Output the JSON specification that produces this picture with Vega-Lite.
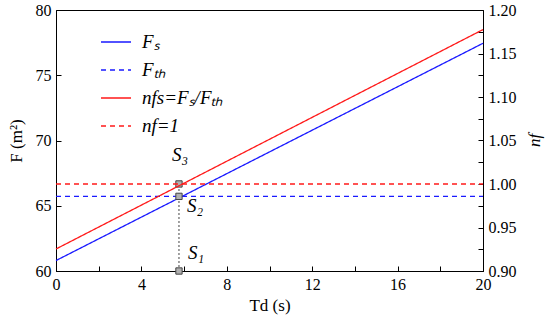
{
  "$schema": "https://vega.github.io/schema/vega-lite/v6.json",
  "width": 427,
  "height": 261,
  "autosize": {"type": "none"},
  "padding": {"left": 56, "top": 10, "right": 67, "bottom": 51},
  "background": "white",
  "datasets": {
    "lines": [
      {"series": "Fs", "t": 0, "value": 60.8},
      {"series": "Fs", "t": 20, "value": 77.45},
      {"series": "Fth", "t": 0, "value": 65.72},
      {"series": "Fth", "t": 20, "value": 65.72},
      {"series": "nfs", "t": 0, "value": 0.9253},
      {"series": "nfs", "t": 20, "value": 1.1775},
      {"series": "nf1", "t": 0, "value": 1.0},
      {"series": "nf1", "t": 20, "value": 1.0}
    ],
    "points": [
      {"name": "S1", "label": "S₁", "t": 5.76, "F": 60},
      {"name": "S2", "label": "S₂", "t": 5.76, "F": 65.72},
      {"name": "S3", "label": "S₃", "t": 5.76, "F": 66.67}
    ],
    "guide": [
      {"t": 5.76, "F0": 60, "F1": 66.67}
    ]
  },
  "config": {
    "font": "Liberation Serif, Times New Roman, serif",
    "view": {"stroke": "black", "strokeWidth": 1},
    "style": {
      "guide-label": {"font": "Liberation Serif, Times New Roman, serif", "fontSize": 16, "fill": "black"},
      "guide-title": {"font": "Liberation Serif, Times New Roman, serif", "fontSize": 17, "fill": "black", "fontWeight": "normal"}
    },
    "axis": {
      "grid": false,
      "domainColor": "black",
      "tickColor": "black",
      "labelColor": "black",
      "titleColor": "black",
      "labelFont": "Liberation Serif, Times New Roman, serif",
      "titleFont": "Liberation Serif, Times New Roman, serif",
      "labelFontSize": 16,
      "titleFontSize": 17,
      "titleFontWeight": "normal",
      "tickSize": -5,
      "labelPadding": 10,
      "labelFlush": false,
      "labelOverlap": false
    },
    "legend": {
      "labelFont": "Liberation Serif, Times New Roman, serif",
      "labelFontSize": 19,
      "labelFontStyle": "italic",
      "labelColor": "black"
    }
  },
  "layer": [
    {
      "layer": [
        {
          "data": {"name": "lines"},
          "transform": [{"filter": "datum.series === 'Fs' || datum.series === 'Fth'"}],
          "mark": {"type": "line", "strokeWidth": 1.3},
          "encoding": {
            "x": {"field": "t", "type": "quantitative", "scale": {"domain": [0, 20], "nice": false},
              "axis": {"title": "Td (s)", "values": [0,2,4,6,8,10,12,14,16,18,20], "labelExpr": "datum.value % 4 === 0 ? datum.label : ''", "titlePadding": 5}},
            "y": {"field": "value", "type": "quantitative", "scale": {"domain": [60, 80], "nice": false, "zero": false},
              "axis": {"title": "F (m²)", "orient": "left", "values": [60,62.5,65,67.5,70,72.5,75,77.5,80], "labelExpr": "datum.value % 5 === 0 ? format(datum.value, 'd') : ''", "titlePadding": 10}},
            "color": {"field": "series", "type": "nominal",
              "scale": {"domain": ["Fs", "Fth", "nfs", "nf1"], "range": ["#1a1aff", "#1a1aff", "#ff1a1a", "#ff1a1a"]},
              "legend": {"title": null, "orient": "none", "legendX": 44, "legendY": 16, "symbolType": "stroke", "symbolSize": 900, "symbolStrokeWidth": 1.5, "labelOffset": 10, "rowPadding": 2,
                "labelExpr": "{'Fs': 'Fₛ', 'Fth': 'Fₜₕ', 'nfs': 'nfs=Fₛ/Fₜₕ', 'nf1': 'nf=1'}[datum.value]"}},
            "strokeDash": {"field": "series", "type": "nominal",
              "scale": {"domain": ["Fs", "Fth", "nfs", "nf1"], "range": [[1, 0], [5, 4], [1, 0], [5, 4]]},
              "legend": {"title": null, "orient": "none", "legendX": 44, "legendY": 16, "symbolType": "stroke", "symbolSize": 900, "symbolStrokeWidth": 1.5, "labelOffset": 10, "rowPadding": 2,
                "labelExpr": "{'Fs': 'Fₛ', 'Fth': 'Fₜₕ', 'nfs': 'nfs=Fₛ/Fₜₕ', 'nf1': 'nf=1'}[datum.value]"}}
          }
        },
        {
          "data": {"name": "guide"},
          "mark": {"type": "rule", "color": "#444444", "strokeWidth": 1, "strokeDash": [2, 2]},
          "encoding": {
            "x": {"field": "t", "type": "quantitative"},
            "y": {"field": "F0", "type": "quantitative"},
            "y2": {"field": "F1"}
          }
        },
        {
          "data": {"name": "points"},
          "mark": {"type": "square", "size": 40, "filled": true, "fill": "#b0b0b0", "stroke": "#444444", "strokeWidth": 1, "opacity": 1},
          "encoding": {
            "x": {"field": "t", "type": "quantitative"},
            "y": {"field": "F", "type": "quantitative"}
          }
        },
        {
          "data": {"name": "points"},
          "transform": [{"filter": "datum.name === 'S3'"}],
          "mark": {"type": "text", "align": "left", "baseline": "middle", "dx": -7, "dy": -29, "fontSize": 19, "fontStyle": "italic", "color": "black"},
          "encoding": {
            "x": {"field": "t", "type": "quantitative"},
            "y": {"field": "F", "type": "quantitative"},
            "text": {"field": "label"}
          }
        },
        {
          "data": {"name": "points"},
          "transform": [{"filter": "datum.name === 'S2'"}],
          "mark": {"type": "text", "align": "left", "baseline": "middle", "dx": 8, "dy": 10, "fontSize": 19, "fontStyle": "italic", "color": "black"},
          "encoding": {
            "x": {"field": "t", "type": "quantitative"},
            "y": {"field": "F", "type": "quantitative"},
            "text": {"field": "label"}
          }
        },
        {
          "data": {"name": "points"},
          "transform": [{"filter": "datum.name === 'S1'"}],
          "mark": {"type": "text", "align": "left", "baseline": "middle", "dx": 9, "dy": -18, "fontSize": 19, "fontStyle": "italic", "color": "black"},
          "encoding": {
            "x": {"field": "t", "type": "quantitative"},
            "y": {"field": "F", "type": "quantitative"},
            "text": {"field": "label"}
          }
        }
      ]
    },
    {
      "data": {"name": "lines"},
      "transform": [{"filter": "datum.series === 'nfs' || datum.series === 'nf1'"}],
      "mark": {"type": "line", "strokeWidth": 1.3},
      "encoding": {
        "x": {"field": "t", "type": "quantitative"},
        "y": {"field": "value", "type": "quantitative", "scale": {"domain": [0.9, 1.2], "nice": false, "zero": false},
          "axis": {"title": "nf", "orient": "right", "titleFontStyle": "italic", "titleAngle": 270, "titleX": 51, "titleY": 130, "titleAlign": "center", "titleBaseline": "middle",
            "values": [0.9,0.925,0.95,0.975,1.0,1.025,1.05,1.075,1.1,1.125,1.15,1.175,1.2],
            "labelExpr": "abs(datum.value*20 - round(datum.value*20)) < 0.001 ? format(datum.value, '.2f') : ''"}},
        "color": {"field": "series", "type": "nominal"},
        "strokeDash": {"field": "series", "type": "nominal"}
      }
    }
  ],
  "resolve": {"scale": {"y": "independent"}}
}
